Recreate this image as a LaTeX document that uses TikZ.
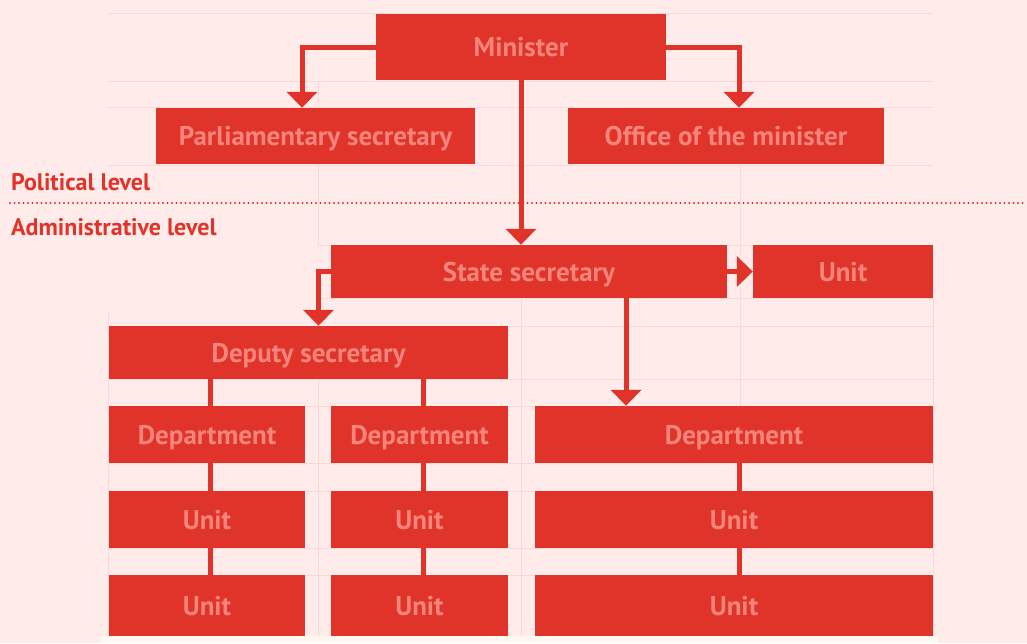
\documentclass[tikz,border=0pt]{standalone}
\usepackage{fontspec}
\setmainfont{PT Sans}
\usetikzlibrary{arrows.meta}

\definecolor{orgred}{HTML}{E0342A}
\definecolor{orgtext}{HTML}{F7847B}
\definecolor{orgbg}{HTML}{FFECEA}
\definecolor{orggrid}{HTML}{F8D9D8}
\definecolor{orgcream}{HTML}{FFF8F1}

\tikzset{
  orgbox/.style={fill=orgred, text=orgtext, inner sep=0pt,
    font=\fontsize{27}{30}\selectfont\bfseries, text height=19pt, text depth=0pt},
  orgline/.style={draw=orgred, line width=5pt},
  orgarrow/.style={orgline, -{Triangle[width=30pt,length=16pt]}},
  levellabel/.style={text=orgred, font=\fontsize{24}{28}\selectfont\bfseries,
    inner sep=0pt, anchor=base west},
}

\begin{document}
\begin{tikzpicture}[x=1pt,y=-1pt]
\fill[orgbg] (0,0) rectangle (1027,643);
\useasboundingbox (0,0) rectangle (1027,643);
\fill[orgcream] (100,636) rectangle (938,643);

% faint layout grid behind the boxes
\draw[orggrid, line width=1pt]
  (108,13) -- (933,13)   (108,81) -- (933,81)
  (108,107) -- (933,107) (108,165) -- (933,165)
  (318,245) -- (933,245) (318,298) -- (933,298)
  (108,326) -- (933,326) (108,379) -- (933,379)
  (108,406) -- (933,406) (108,463) -- (933,463)
  (108,491) -- (933,491) (108,548) -- (933,548)
  (108,575) -- (933,575)
  (318,81) -- (318,245)  (740,165) -- (740,406)
  (521,298) -- (521,636) (318,379) -- (318,636)
  (108,312) -- (108,636) (933,298) -- (933,636);

% political / administrative split
\draw[orgred, line width=2.4pt, line cap=round, dash pattern=on 0pt off 4.5pt]
  (10,203) -- (1027,203);
\node[levellabel] (political) at (11,190) {Political level};
\node[levellabel] (admin) at (11,235) {Administrative level};

% boxes
\node[orgbox, minimum width=290pt, minimum height=66pt] (minister) at (521,47) {Minister};
\node[orgbox, minimum width=319pt, minimum height=56pt] (parl) at (315.5,136) {Parliamentary secretary};
\node[orgbox, minimum width=316pt, minimum height=56pt] (office) at (726,136) {Office of the minister};
\node[orgbox, minimum width=396pt, minimum height=53pt] (state) at (529,271.5) {State secretary};
\node[orgbox, minimum width=180pt, minimum height=53pt] (topunit) at (843,271.5) {Unit};
\node[orgbox, minimum width=399pt, minimum height=53pt] (deputy) at (308.5,352.5) {Deputy secretary};

\node[orgbox, minimum width=196pt, minimum height=57pt] (dept1) at (207,434.5) {Department};
\node[orgbox, minimum width=177pt, minimum height=57pt] (dept2) at (419.5,434.5) {Department};
\node[orgbox, minimum width=398pt, minimum height=57pt] (dept3) at (734,434.5) {Department};

\node[orgbox, minimum width=196pt, minimum height=57pt] (unit11) at (207,519.5) {Unit};
\node[orgbox, minimum width=177pt, minimum height=57pt] (unit21) at (419.5,519.5) {Unit};
\node[orgbox, minimum width=398pt, minimum height=57pt] (unit31) at (734,519.5) {Unit};

\node[orgbox, minimum width=196pt, minimum height=61pt] (unit12) at (207,605.5) {Unit};
\node[orgbox, minimum width=177pt, minimum height=61pt] (unit22) at (419.5,605.5) {Unit};
\node[orgbox, minimum width=398pt, minimum height=61pt] (unit32) at (734,605.5) {Unit};

% arrows
\draw[orgarrow] (minister.west) -| ([xshift=-13.5pt]parl.north);
\draw[orgarrow] (minister.east) -| ([xshift=13pt]office.north);
\draw[orgarrow] (minister.south) -- (minister.south |- state.north);
\draw[orgarrow] (state.east) -- (topunit.west);
\draw[orgarrow] (state.west) -| ([xshift=10pt]deputy.north);
\draw[orgarrow] ([xshift=97pt]state.south) -- ([xshift=97pt]state.south |- dept3.north);

% plain links down the columns
\draw[orgline] ([xshift=3pt]dept1.north |- deputy.south) -- ([xshift=3pt]dept1.north);
\draw[orgline] ([xshift=3.5pt]dept2.north |- deputy.south) -- ([xshift=3.5pt]dept2.north);
\draw[orgline] ([xshift=3pt]dept1.south) -- ([xshift=3pt]unit11.north);
\draw[orgline] ([xshift=3.5pt]dept2.south) -- ([xshift=3.5pt]unit21.north);
\draw[orgline] ([xshift=5pt]dept3.south) -- ([xshift=5pt]unit31.north);
\draw[orgline] ([xshift=3pt]unit11.south) -- ([xshift=3pt]unit12.north);
\draw[orgline] ([xshift=3.5pt]unit21.south) -- ([xshift=3.5pt]unit22.north);
\draw[orgline] ([xshift=5pt]unit31.south) -- ([xshift=5pt]unit32.north);
\end{tikzpicture}
\end{document}
